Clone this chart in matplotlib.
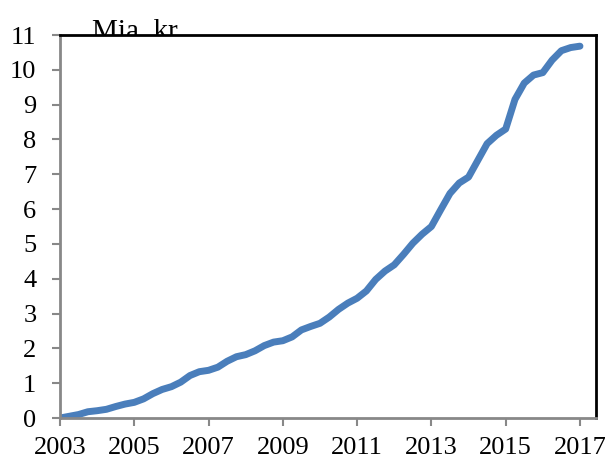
import numpy as np
import matplotlib.pyplot as plt

# kvartalsvise observationer, mia. kr.
years = np.arange(2003, 2017.01, 0.25)
values = [0.00, 0.05, 0.10, 0.18, 0.21, 0.25, 0.33, 0.40,
          0.45, 0.55, 0.70, 0.82, 0.90, 1.03, 1.22, 1.33,
          1.37, 1.46, 1.63, 1.76, 1.82, 1.93, 2.08, 2.18,
          2.22, 2.33, 2.53, 2.63, 2.72, 2.90, 3.12, 3.30,
          3.44, 3.65, 3.98, 4.22, 4.40, 4.70, 5.02, 5.28,
          5.50, 5.98, 6.45, 6.75, 6.92, 7.40, 7.88, 8.12,
          8.30, 9.15, 9.62, 9.85, 9.92, 10.28, 10.55, 10.64,
          10.68]
xticks = [2003, 2005, 2007, 2009, 2011, 2013, 2015, 2017]
yticks = list(range(0, 12))

plt.rcParams['font.family'] = ['Liberation Serif', 'DejaVu Serif']

fig = plt.figure(figsize=(6.05, 4.59), dpi=100)
ax = fig.add_axes([0.0992, 0.0893, 0.8858, 0.8344])

ax.plot(years, values, color='#4a7ebb', lw=5, solid_capstyle='round',
        solid_joinstyle='round')

ax.set_xlim(2003, 2017.43)
ax.set_ylim(0, 11)
ax.set_xticks(xticks)
ax.set_yticks(yticks)
ax.tick_params(labelsize=19, direction='out', length=6, width=1.5,
               color='#888888')
ax.tick_params(axis='x', pad=8)
ax.tick_params(axis='y', pad=11)

for s in ['left', 'bottom']:
    ax.spines[s].set_color('#888888')
    ax.spines[s].set_linewidth(2)
for s in ['top', 'right']:
    ax.spines[s].set_color('black')
    ax.spines[s].set_linewidth(2)

fig.text(0.228, 0.915, 'Mia. kr.', fontsize=21, ha='center', va='baseline',
         zorder=-1)

fig.savefig('out.png', dpi=100)
